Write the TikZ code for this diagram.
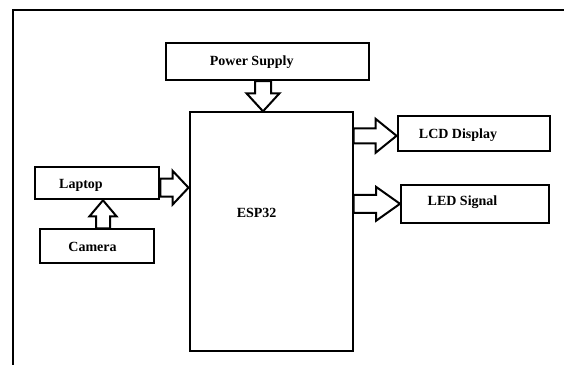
\documentclass[tikz,border=0pt]{standalone}
\usepackage{fontspec}
\setmainfont{Liberation Serif}
\usetikzlibrary{calc}
\begin{document}
\begin{tikzpicture}[x=1pt,y=-1pt,line width=2pt,
  box/.style 2 args={draw,inner sep=0pt,minimum width=#1,minimum height=#2},
  lbl/.style={font=\bfseries\fontsize{14}{16}\selectfont,inner sep=0pt},
  fat/.style n args={3}{to path={
    let \p1=(\tikztostart), \p2=(\tikztotarget),
        \n1={veclen(\x2-\x1,\y2-\y1)}, \n2={(\x2-\x1)/\n1}, \n3={(\y2-\y1)/\n1},
        \n4={\n1-#3} in
    ({\x1-#1*\n3},{\y1+#1*\n2}) -- ({\x1+\n4*\n2-#1*\n3},{\y1+\n4*\n3+#1*\n2})
    -- ({\x1+\n4*\n2-#2*\n3},{\y1+\n4*\n3+#2*\n2}) -- (\p2)
    -- ({\x1+\n4*\n2+#2*\n3},{\y1+\n4*\n3-#2*\n2}) -- ({\x1+\n4*\n2+#1*\n3},{\y1+\n4*\n3-#1*\n2})
    -- ({\x1+#1*\n3},{\y1-#1*\n2}) -- cycle}}]
  \path[use as bounding box,clip] (0,0) rectangle (564,364);
  \draw (12.6,380) |- (580,9.5);
  % blocks
  \node[box={203.7pt}{36.7pt}] (ps) at (267.5,61.7) {};
  \node[box={163pt}{238.4pt}] (esp) at (271,231.5) {};
  \node[box={152.5pt}{34.7pt}] (lcd) at (473.8,133.3) {};
  \node[box={147.6pt}{37.7pt}] (led) at (474.8,203.8) {};
  \node[box={124.4pt}{32pt}] (lap) at (97.2,183.3) {};
  \node[box={114pt}{34pt}] (cam) at (97,246.3) {};
  \node[lbl] at ([xshift=-15.8pt]ps.center) {Power Supply};
  \node[lbl] at (256.6,212.5) {ESP32};
  \node[lbl] at (458,135) {LCD Display};
  \node[lbl] at (462.5,202) {LED Signal};
  \node[lbl] at (81,185.5) {Laptop};
  \node[lbl] at (92.5,247) {Camera};
  % block arrows
  \draw[fat={8}{16.5}{18}] ([xshift=-4.5pt]ps.south) to ([xshift=-4.5pt]ps.south |- esp.north);
  \draw[fat={9}{17}{16}] ([yshift=-4.4pt]lap.east) to ([yshift=-4.4pt]lap.east -| esp.west);
  \draw[fat={7}{13.5}{16}] ([xshift=6pt]cam.north) to ([xshift=6pt]cam.north |- lap.south);
  \draw[fat={7.5}{17}{21}] ([yshift=-2.5pt]lcd.west -| esp.east) to ([yshift=-2.5pt]lcd.west);
  \draw[fat={9}{17}{24}] (led.west -| esp.east) to (led.west);
\end{tikzpicture}
\end{document}
